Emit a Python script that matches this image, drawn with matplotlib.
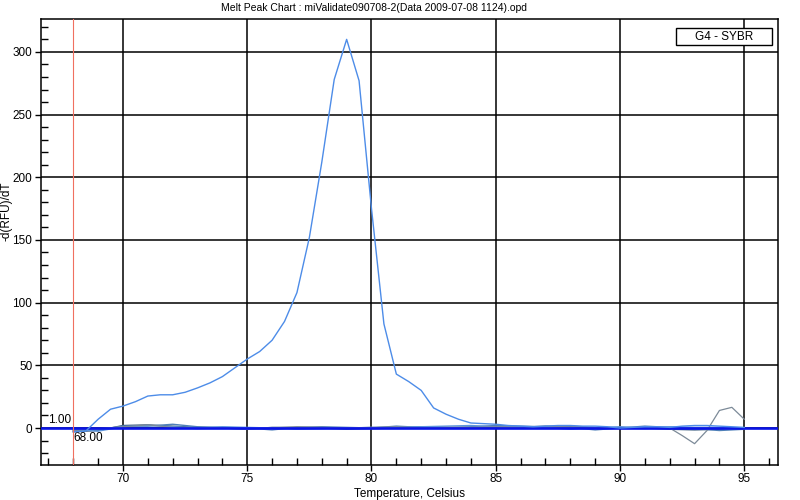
import numpy as np
import matplotlib
matplotlib.use("Agg")
import matplotlib.pyplot as plt
from matplotlib.ticker import MultipleLocator
from matplotlib.patches import Rectangle

plt.rcParams['font.family'] = ['Liberation Sans', 'DejaVu Sans']

# main melt peak (well G4), read every 0.5 C
temp_main = np.arange(68.0, 95.01, 0.5)
peak_main = [-3, -2.5, 7, 15, 17.5, 21, 25.5, 26.5, 26.5, 28.5,
             32, 36, 41, 48, 55, 61, 70, 85, 108, 152,
             212, 278, 310, 277, 175, 83, 43, 37, 30, 16,
             11, 7, 4, 3.5, 3, 2, 1.5, 1, 1.5, 2,
             2, 1.5, 1.5, 1, 0, 0.5, 1, 1, 0.5, 1.5,
             2, 2, 1.5, 1, 0.5]

# flat traces near zero, read every 1 C
temp_flat = np.arange(68, 96, 1.0)
flat_a = [-3, -2, 2, 2.5, 1.5, 0.5, 0, -1, 0.5, 0.5, 0, -1, -0.5, 0,
          1, 0.5, 0.5, 1, 0.5, 1.5, 1, 0, 0.5, 0, -1, -1.5, -1, 0]
flat_b = [-2, -1.5, 1.5, 1.5, 3, 1, 0.5, 0, -1.5, 0.5, 1, 0.5, 0, 1.5,
          0.5, 0, 1, 2, 1.5, 1, 0.5, -1.5, 0, 1.5, 0.5, -0.5, -2, -1]
flat_c = [-1, -2.5, 1, 2, 1, 0, 1, 0.5, 0, -1, -0.5, 0, 0.5, 0.5,
          1, 1.5, 2, 1, 0, 0.5, -1, 0, 1, 0, 1, 0.5, 0.5, 0]

# grey trace with the wiggle near 93-95 C
temp_grey = [68, 69, 70, 71, 72, 73, 74, 75, 76, 77, 78, 79, 80, 81, 82,
             83, 84, 85, 86, 87, 88, 89, 90, 91, 92, 92.5, 93, 93.5, 94, 94.5, 95]
peak_grey = [-2, -0.5, 1, 2.5, 0.5, -0.5, 0, -1, 0, 1, 0.5, 0, 0.5, 1, 0,
             0.5, 0.5, 1, 0.5, 1, 1.5, 0.5, 0, -0.5, 0, -6, -12.5, -2, 14, 16.5, 7]

title = "Melt Peak Chart : miValidate090708-2(Data 2009-07-08 1124).opd"

fig = plt.figure(figsize=(8, 5), dpi=100)
ax = fig.add_axes([0.0509, 0.07, 0.922, 0.8914])

ax.set_xlim(66.69, 96.37)
ax.set_ylim(-29.5, 326)

# grid
for gx in range(70, 96, 5):
    ax.axvline(gx, color='black', lw=1.1, zorder=1)
for gy in range(0, 301, 50):
    ax.axhline(gy, color='black', lw=1.1, zorder=1)

ax.plot(temp_flat, flat_a, color='#3d5f80', lw=1.0, zorder=3)
ax.plot(temp_flat, flat_b, color='#4f80b8', lw=1.0, zorder=3)
ax.plot(temp_flat, flat_c, color='#5d95dc', lw=1.0, zorder=3)
ax.plot(temp_grey, peak_grey, color='#7c8a98', lw=0.9, zorder=3)

# zero baseline
ax.axhline(0, color='#0a14e6', lw=1.9, zorder=4)

ax.plot(temp_main, peak_main, color='#4d8ce8', lw=1.0, zorder=5)

# start marker
ax.axvline(68.0, color='#f07060', lw=0.8, zorder=6)
ax.text(67.9, 1.5, "1.00", ha='right', va='bottom', fontsize=8.5)
ax.text(68.0, -3.5, "68.00", ha='left', va='top', fontsize=8.5)

ax.xaxis.set_major_locator(MultipleLocator(5))
ax.xaxis.set_minor_locator(MultipleLocator(1))
ax.yaxis.set_major_locator(MultipleLocator(50))
ax.yaxis.set_minor_locator(MultipleLocator(10))
ax.tick_params(which='major', direction='out', length=4, width=1, labelsize=8.5, pad=2)
ax.tick_params(which='minor', direction='in', length=5, width=1)
for s in ax.spines.values():
    s.set_linewidth(1.1)

ax.set_xlabel("Temperature, Celsius", fontsize=8.5, labelpad=2)
ax.set_ylabel("-d(RFU)/dT", fontsize=8.5, va='center')
ax.yaxis.set_label_coords(-0.047, 0.57)

fig.text(374 / 800, 1 - 8 / 500, title, ha='center', va='center', fontsize=7.5)

# legend box
ax.add_patch(Rectangle((0.8613, 0.9423), 0.1302, 0.0382, transform=ax.transAxes,
                       fc='white', ec='black', lw=1.0, zorder=10))
ax.text(0.8613 + 0.0651, 0.9614, "G4 - SYBR", transform=ax.transAxes,
        ha='center', va='center', fontsize=8.5, zorder=11)

fig.savefig("out.png", dpi=100)
